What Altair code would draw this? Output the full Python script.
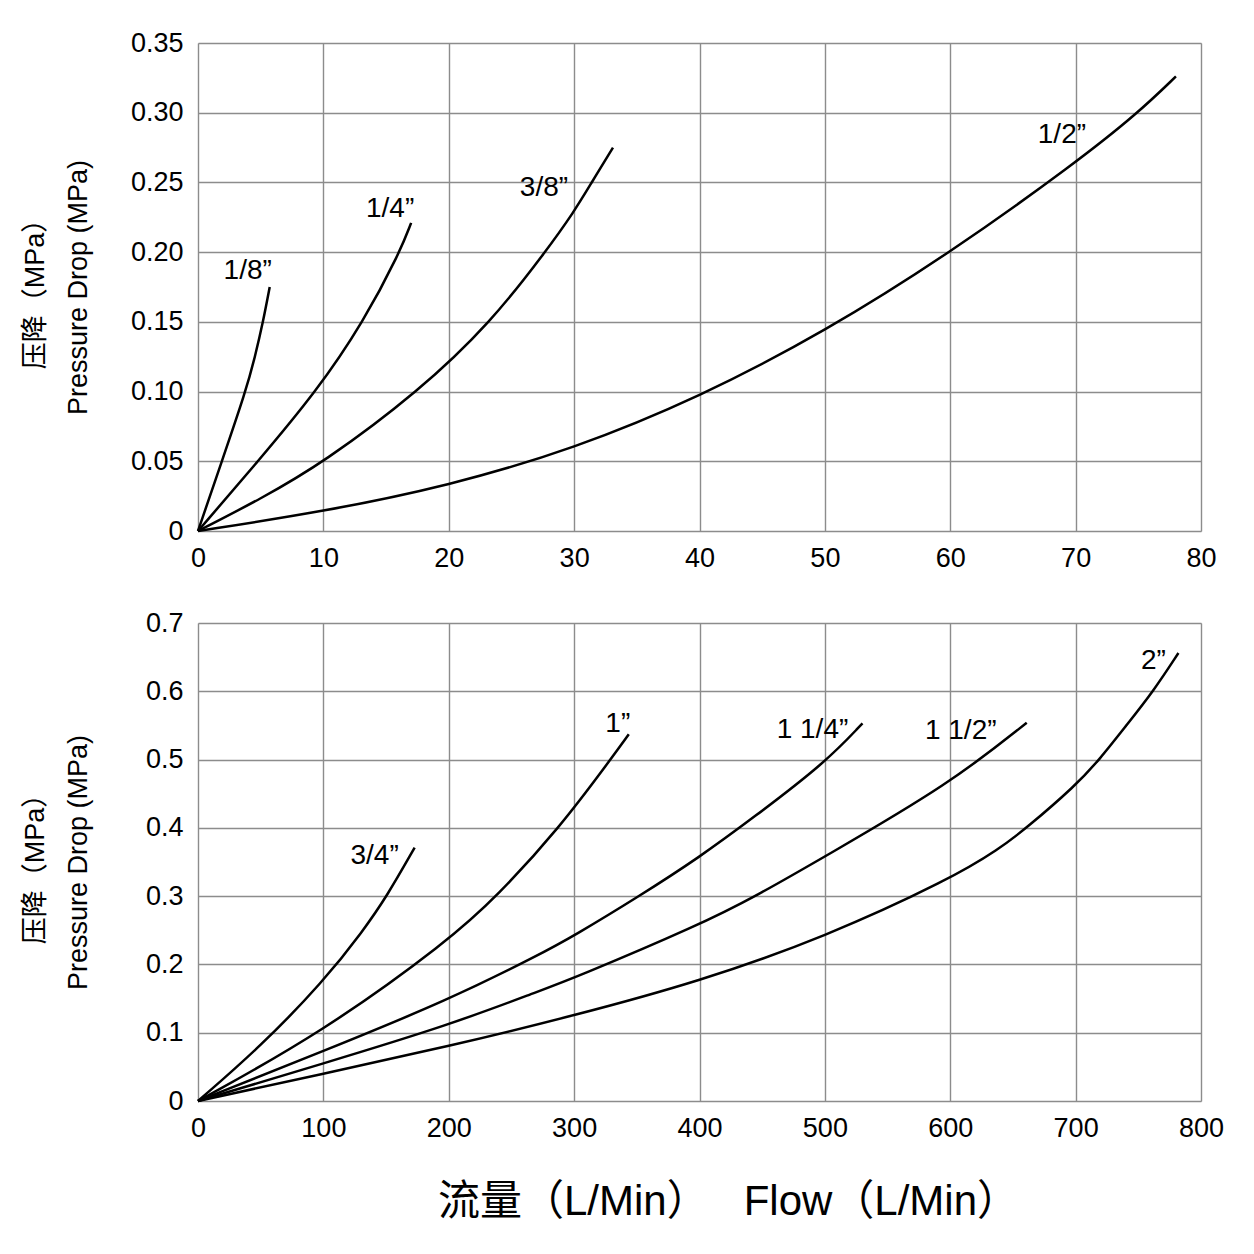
import altair as alt
import pandas as pd

# ---- top panel (small sizes), flow in L/min, pressure drop in MPa
flow_18 = [0, 1.9, 3.8, 4.55, 5.19, 5.72]
drop_18 = [0, 0.05, 0.10, 0.125, 0.15, 0.175]
flow_14 = [0, 4.79, 9.44, 13.2, 16.1, 17.0]
drop_14 = [0, 0.05, 0.10, 0.15, 0.20, 0.221]
flow_38 = [0, 5, 10, 17.6, 23.4, 27.7, 30, 31.4, 33.1]
drop_38 = [0, 0.023, 0.049, 0.10, 0.15, 0.20, 0.229, 0.25, 0.275]
flow_12 = [0, 10, 20, 30, 40, 50, 60, 70, 75, 78]
drop_12 = [0, 0.0139, 0.0324, 0.059, 0.096, 0.143, 0.1995, 0.264, 0.30, 0.326]

# ---- bottom panel (large sizes)
flow_34 = [0, 50, 100, 132, 150.7, 172.8]
drop_34 = [0, 0.080, 0.175, 0.25, 0.3, 0.371]
flow_1 = [0, 98.7, 200, 238.6, 288.3, 329, 343.6]
drop_1 = [0, 0.1, 0.235, 0.3, 0.4, 0.5, 0.537]
flow_114 = [0, 100, 200, 272, 300, 352, 400, 443, 500, 530]
drop_114 = [0, 0.073, 0.148, 0.214, 0.242, 0.3, 0.357, 0.415, 0.495, 0.553]
flow_112 = [0, 100, 200, 272, 300, 400, 445, 500, 600, 661]
drop_112 = [0, 0.055, 0.111, 0.161, 0.180, 0.258, 0.3, 0.358, 0.465, 0.554]
flow_2 = [0, 100, 200, 300, 400, 500, 600, 639, 661, 700, 719, 740, 762, 782]
drop_2 = [0, 0.040, 0.080, 0.125, 0.175, 0.24, 0.325, 0.369, 0.4, 0.462, 0.5, 0.549, 0.6, 0.656]

top_series = {"1/8”": (flow_18, drop_18), "1/4”": (flow_14, drop_14),
              "3/8”": (flow_38, drop_38), "1/2”": (flow_12, drop_12)}
bottom_series = {"3/4”": (flow_34, drop_34), "1”": (flow_1, drop_1),
                 "1 1/4”": (flow_114, drop_114), "1 1/2”": (flow_112, drop_112),
                 "2”": (flow_2, drop_2)}

top_x_ticks = [0, 10, 20, 30, 40, 50, 60, 70, 80]
top_y_ticks = [0, 0.05, 0.10, 0.15, 0.20, 0.25, 0.30, 0.35]
bottom_x_ticks = [0, 100, 200, 300, 400, 500, 600, 700, 800]
bottom_y_ticks = [0, 0.1, 0.2, 0.3, 0.4, 0.5, 0.6, 0.7]

y_title = ["压降（MPa）", "Pressure Drop (MPa)"]
# non-breaking spaces so the gap survives in SVG text
x_title = "流量（L/Min）\u00a0\u00a0\u00a0Flow（L/Min）"

# label offsets (px) from the end of each curve
label_offsets = {
    "1/8”": (-22, -16), "1/4”": (-21, -14), "3/8”": (-69, 40), "1/2”": (-114, 59),
    "3/4”": (-40, 8), "1”": (-11, -10), "1 1/4”": (-50, 7), "1 1/2”": (-66, 8),
    "2”": (-25, 8),
}

FONT = "Liberation Sans, Arial, Noto Sans CJK SC, sans-serif"


def to_frame(series):
    rows = []
    for name, (xs, ys) in series.items():
        for x, y in zip(xs, ys):
            rows.append({"size": name, "flow": x, "drop": y})
    return pd.DataFrame(rows)


def panel(series, x_ticks, y_ticks, y_fmt, height, with_title):
    df = to_frame(series)
    x_axis_kw = dict(
        values=x_ticks, grid=True, gridColor="#8c8c8c", gridWidth=1.4,
        domain=False, ticks=False, labelPadding=14, labelFlush=False,
        labelFontSize=27, labelFont=FONT, labelColor="black",
    )
    if with_title:
        x_axis_kw.update(title=x_title, titleFontSize=42, titleFont=FONT,
                         titleFontWeight="normal", titleColor="black",
                         titlePadding=40, titleX=530)
    else:
        x_axis_kw.update(title=None)
    x = alt.X("flow:Q", scale=alt.Scale(domain=[x_ticks[0], x_ticks[-1]], nice=False),
              axis=alt.Axis(**x_axis_kw))
    y = alt.Y("drop:Q", scale=alt.Scale(domain=[y_ticks[0], y_ticks[-1]], nice=False),
              axis=alt.Axis(
                  values=y_ticks, title=y_title, grid=True, gridColor="#8c8c8c",
                  gridWidth=1.4, domain=False, ticks=False, labelPadding=15,
                  labelExpr=f"datum.value == 0 ? '0' : format(datum.value, '{y_fmt}')",
                  labelFontSize=27, labelFont=FONT, labelColor="black",
                  minExtent=68, titlePadding=38,
                  titleFontSize=27, titleFont=FONT, titleFontWeight="normal",
                  titleColor="black", titleLineHeight=43,
              ))
    lines = alt.Chart(df).mark_line(
        color="black", strokeWidth=2.5, interpolate="basis"
    ).encode(x=x, y=y, detail="size:N")

    layers = [lines]
    ends = df.groupby("size", sort=False).last().reset_index()
    for name in series:
        dx, dy = label_offsets[name]
        layers.append(
            alt.Chart(ends[ends["size"] == name]).mark_text(
                dx=dx, dy=dy, fontSize=28, font=FONT, color="black",
                align="center", baseline="middle",
            ).encode(x="flow:Q", y="drop:Q", text="size:N")
        )
    return alt.layer(*layers).properties(width=1003, height=height)


top = panel(top_series, top_x_ticks, top_y_ticks, ".2f", 488, False)
bottom = panel(bottom_series, bottom_x_ticks, bottom_y_ticks, ".1f", 478, True)

chart = (
    alt.vconcat(top, bottom, spacing=36)
    .properties(padding={"left": 12, "top": 20, "right": 10, "bottom": 10})
    .configure_view(stroke="black", strokeWidth=2.6)
    .configure(background="white")
)

chart.save("out.html", embed_options={"renderer": "svg", "actions": False})
